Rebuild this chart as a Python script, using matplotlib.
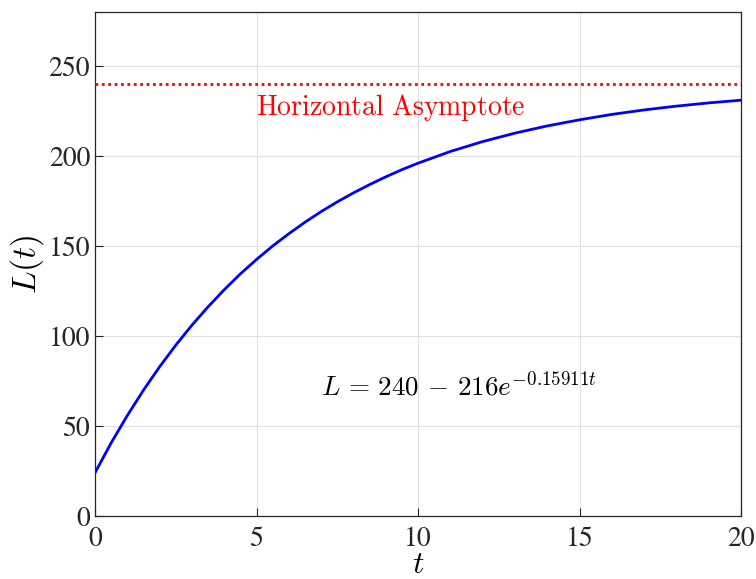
import matplotlib
matplotlib.use("Agg")
import matplotlib.pyplot as plt

# Values
t_vals = [0, 0.5, 1, 1.5, 2, 2.5, 3, 3.5, 4, 4.5, 5, 5.5, 6, 6.5, 7, 7.5, 8, 8.5, 9, 9.5, 10,
          11, 12, 13, 14, 15, 16, 17, 18, 19, 20]
L_vals = [24.0, 40.6, 55.8, 69.9, 82.9, 94.9, 106.0, 116.2, 125.7, 134.5, 142.5, 150.0,
          156.8, 163.2, 169.1, 174.5, 179.5, 184.1, 188.4, 192.4, 196.0,
          202.5, 208.0, 212.7, 216.7, 220.1, 223.1, 225.6, 227.7, 229.5, 231.0]
asymptote = 240
x_ticks = [0, 5, 10, 15, 20]
y_ticks = [0, 50, 100, 150, 200, 250]

plt.rcParams['mathtext.fontset'] = 'cm'
plt.rcParams['font.family'] = 'serif'
plt.rcParams['font.serif'] = ['STIXGeneral', 'Liberation Serif', 'DejaVu Serif']

fig = plt.figure(figsize=(7.56, 5.79), dpi=100)
ax = fig.add_axes([95/756, 63/579, 646/756, 504/579])

ax.plot(t_vals, L_vals, color='#0000ff', lw=2.0, zorder=3)
ax.axhline(asymptote, color='#ff0000', lw=2.0, ls=(0, (1, 1.3)), zorder=3)

ax.text(5, 227, r'$\mathrm{Horizontal\ Asymptote}$', color='#ff0000', fontsize=20,
        ha='left', va='center')
ax.text(7, 72, r'$L\,=\,240\,-\,216e^{-0.15911t}$', color='black', fontsize=19.5,
        ha='left', va='center')

ax.set_xlim(0, 20)
ax.set_ylim(0, 280)
ax.set_xticks(x_ticks)
ax.set_yticks(y_ticks)
ax.tick_params(direction='in', labelsize=20, colors='#262626', length=6, width=0.8,
               top=False, right=False)
ax.tick_params(axis='x', pad=8)
ax.grid(True, color='#e0e0e0', lw=0.8)
ax.set_axisbelow(True)
for s in ax.spines.values():
    s.set_color('#262626')
    s.set_linewidth(0.9)

ax.set_xlabel(r'$t$', fontsize=23, labelpad=-1)
ax.set_ylabel(r'$L(t)$', fontsize=24, labelpad=2)

fig.savefig('out.png', dpi=100)
